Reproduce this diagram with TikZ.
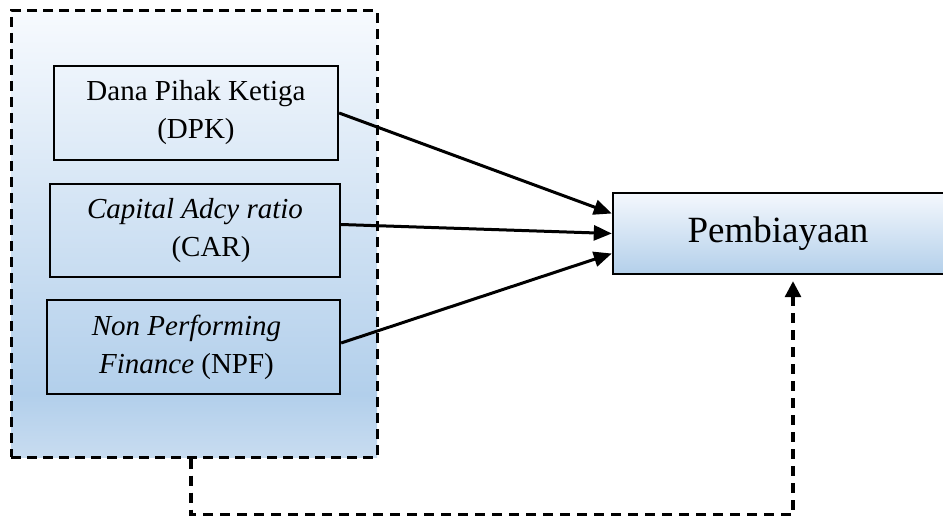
\documentclass[tikz,border=0pt]{standalone}
\usepackage{fontspec}
\setmainfont{Liberation Serif}
\usetikzlibrary{arrows.meta}

\definecolor{otop}{HTML}{F7FAFE}
\definecolor{odeep}{HTML}{B2CFEB}
\definecolor{obot}{HTML}{C8DCF0}
\definecolor{ptop}{HTML}{F4F8FD}
\definecolor{pbot}{HTML}{B3CFEA}

% light-to-blue fill of the grouping frame, a little lighter at its foot
\pgfdeclareverticalshading{groupfill}{100bp}{%
  color(0bp)=(obot); color(25bp)=(obot); color(32bp)=(odeep);
  color(75bp)=(otop); color(100bp)=(otop)}

\tikzset{
  groupframe/.style={draw, line width=3pt, dash pattern=on 10pt off 6pt,
    shading=groupfill, inner sep=0pt},
  varbox/.style={draw, line width=2.2pt, inner sep=0pt, align=center,
    font=\fontsize{29}{38}\selectfont},
  resultbox/.style={draw, line width=2.4pt, inner sep=0pt,
    top color=ptop, bottom color=pbot, font=\fontsize{37}{44}\selectfont},
  link/.style={line width=3pt, -{Triangle[length=18pt,width=15pt]}},
  backlink/.style={line width=3.2pt, dash pattern=on 10pt off 7pt,
    -{Triangle[length=16pt,width=16pt]}}
}

\begin{document}
\begin{tikzpicture}[x=1pt,y=-1pt]
\useasboundingbox (0,0) rectangle (943,516);

% grouping frame around the independent variables
\node[groupframe, minimum width=366pt, minimum height=446pt] (grp) at (194,234) {};

% independent variables
\node[varbox, minimum width=284pt, minimum height=94pt] (dpk) at (196,113)
  {Dana Pihak Ketiga\\(DPK)};
\node[varbox, minimum width=290pt, minimum height=93pt] (car) at (195,230.5)
  {\textit{Capital Adcy ratio}\\\hspace*{32pt}(CAR)};
\node[varbox, minimum width=293pt, minimum height=94pt] (npf) at (193.5,347)
  {\hspace*{-14pt}\textit{Non Performing}\\\hspace*{-14pt}\textit{Finance} (NPF)};

% dependent variable
\node[resultbox, minimum width=334pt, minimum height=81pt] (pem) at (780,233.5)
  {\hspace*{-4pt}Pembiayaan};

% direct effects
\draw[link] ([yshift=0pt]dpk.east) -- ([yshift=20pt]pem.west);
\draw[link] ([yshift=6pt]car.east) -- ([yshift=0pt]pem.west);
\draw[link] ([yshift=4pt]npf.east) -- ([yshift=-20pt]pem.west);

% simultaneous effect of the whole group
\coordinate (tip) at ([xshift=13pt,yshift=-6pt]pem.south);
\draw[backlink] ([xshift=-3pt]grp.south) -- ++(0,56) -| (tip);
\end{tikzpicture}
\end{document}
